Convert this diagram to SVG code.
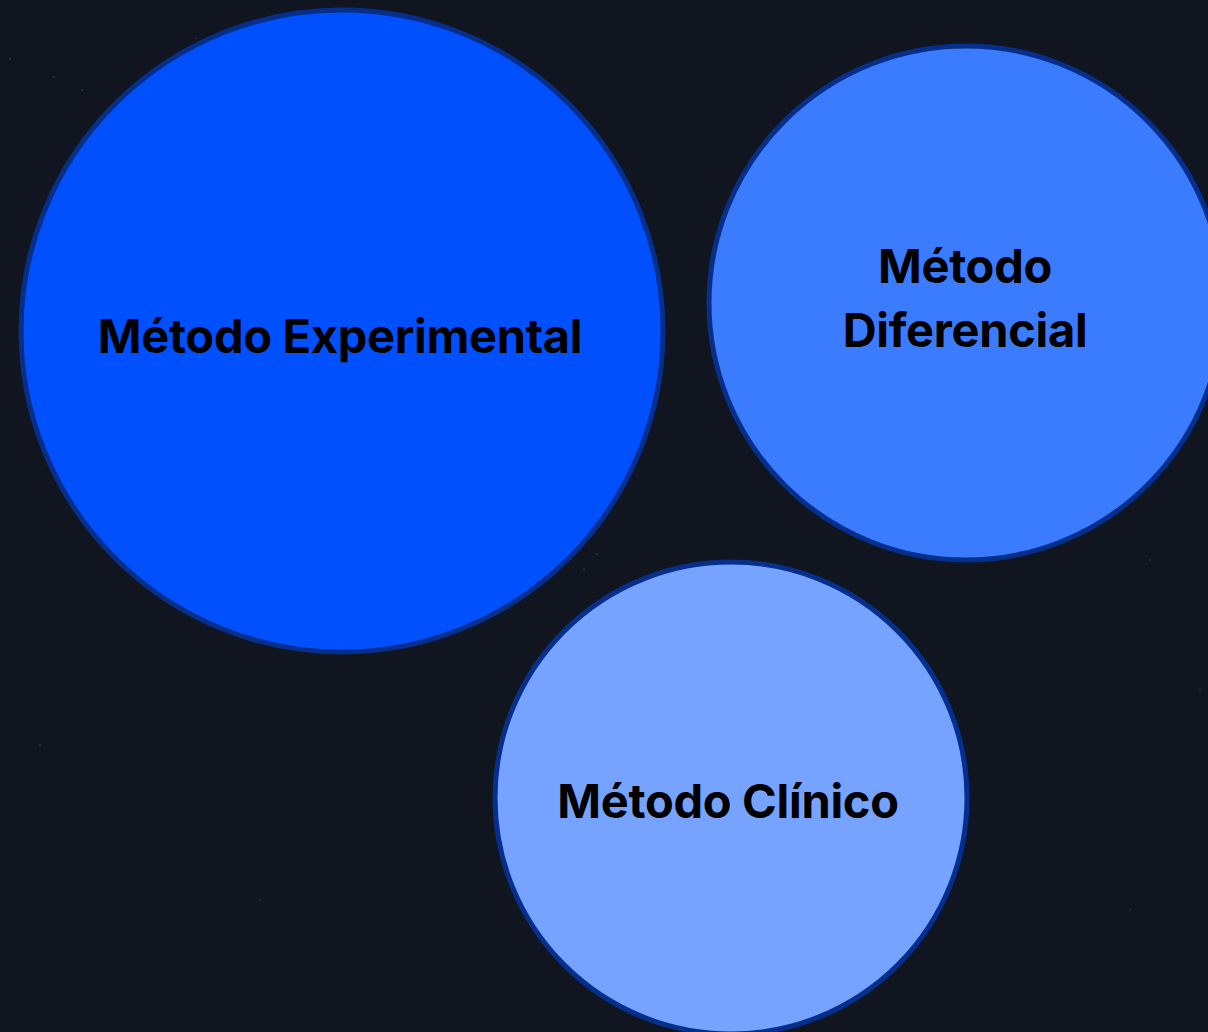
<svg xmlns="http://www.w3.org/2000/svg" width="1208" height="1032" viewBox="0 0 1208 1032">
<style>
.node circle{stroke:#062f8c;stroke-width:5}
.lbl{font-family:Inter,"Liberation Sans",sans-serif;font-weight:700;font-size:47px;fill:#000;text-anchor:middle;letter-spacing:-0.3px}
.star{fill:#2a2f3a}
</style>
<rect width="1208" height="1032" fill="#10151f"/>
<g id="stars">
<circle class="star" cx="10" cy="59" r="1.2"/>
<circle class="star" cx="82" cy="90" r="1.2"/>
<circle class="star" cx="54" cy="77" r="1"/>
<circle class="star" cx="196" cy="38" r="1"/>
<circle class="star" cx="584" cy="569" r="1"/>
<circle class="star" cx="597" cy="554" r="1"/>
<circle class="star" cx="40" cy="745" r="1.2"/>
<circle class="star" cx="1150" cy="560" r="1"/>
<circle class="star" cx="1200" cy="690" r="1"/>
<circle class="star" cx="260" cy="900" r="1"/>
<circle class="star" cx="1130" cy="910" r="1"/>
</g>
<g id="connectors"></g>
<g id="node-experimental" class="node">
<circle cx="342" cy="331" r="321" fill="#0050fe"/>
<text class="lbl" x="340" y="353">Método Experimental</text>
</g>
<g id="node-diferencial" class="node">
<circle cx="966" cy="303" r="257" fill="#3b7bfe"/>
<text class="lbl" x="965" y="283">Método</text>
<text class="lbl" x="965" y="347">Diferencial</text>
</g>
<g id="node-clinico" class="node">
<circle cx="731" cy="798" r="236" fill="#76a3ff"/>
<text class="lbl" x="728" y="818">Método Clínico</text>
</g>
</svg>
